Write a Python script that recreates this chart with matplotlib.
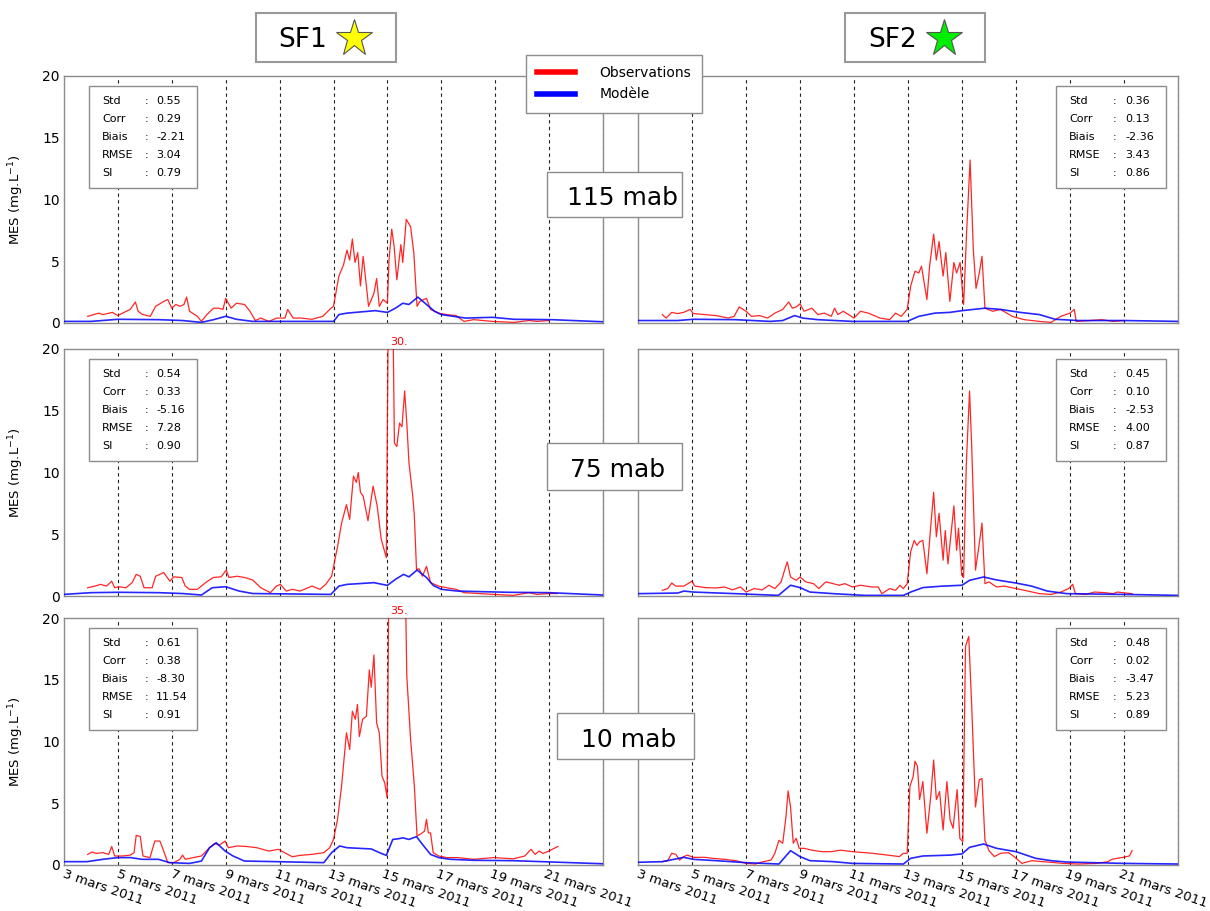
import numpy as np
import matplotlib
matplotlib.use("Agg")
import matplotlib.pyplot as plt
import matplotlib.transforms as mtransforms
from matplotlib.patches import Rectangle
from matplotlib.lines import Line2D

# ---------------- data (days since 1 March 2011, MES in mg/L) ----------------
sf1_115_obs_day = [0.88, 1.29, 1.44, 1.8, 2.0, 2.17, 2.46, 2.65, 2.75, 2.9, 3.2, 3.4, 3.7, 3.85, 4.0,
                   4.15, 4.3, 4.45, 4.55, 4.66, 4.95, 5.1, 5.3, 5.55, 5.75, 5.9, 6.0, 6.2, 6.4, 6.7,
                   6.9, 7.1, 7.3, 7.6, 7.9, 8.2, 8.3, 8.5, 8.8, 9.2, 9.6, 9.86, 10.0, 10.2, 10.37,
                   10.5, 10.6, 10.7, 10.8, 10.9, 11.0, 11.1, 11.25, 11.3, 11.5, 11.6, 11.7, 11.84, 12.0, 12.06,
                   12.16, 12.25, 12.35, 12.5, 12.57, 12.7, 12.86, 12.98, 13.1, 13.2, 13.45, 13.6, 13.9, 14.2, 14.55,
                   14.84, 15.2, 15.9, 16.7, 17.26, 17.55, 18.0]
sf1_115_obs = [0.54, 0.8, 0.68, 0.86, 0.6, 0.8, 1.1, 1.7, 0.95, 0.7, 0.54, 1.35, 1.75, 1.9, 1.2,
               1.5, 1.35, 1.5, 2.1, 0.95, 0.54, 0.13, 0.68, 1.2, 1.2, 1.1, 2.0, 1.2, 1.6, 1.5,
               0.95, 0.2, 0.4, 0.13, 0.4, 0.4, 1.1, 0.4, 0.4, 0.3, 0.54, 1.1, 1.35, 3.8, 4.7,
               5.9, 5.1, 6.8, 4.9, 5.7, 3.0, 5.4, 2.4, 1.35, 2.4, 3.6, 1.35, 1.9, 1.6, 5.1,
               7.6, 6.2, 3.5, 6.35, 4.9, 8.4, 7.8, 5.7, 1.35, 1.75, 2.0, 1.1, 0.8, 0.68, 0.6,
               0.13, 0.27, 0.13, 0.05, 0.2, 0.13, 0.2]
sf1_115_mod_day = [0, 1, 2, 3.5, 4.4, 5.1, 5.55, 6.0, 6.4, 7.0, 7.9, 10.0, 10.2, 10.5, 11.55,
                   12.0, 12.3, 12.57, 12.8, 13.13, 13.45, 13.75, 14.0, 14.9, 15.9, 16.7, 18.1, 20]
sf1_115_mod = [0.13, 0.13, 0.3, 0.27, 0.2, 0.05, 0.27, 0.54, 0.3, 0.13, 0.13, 0.13, 0.68, 0.8, 1.0,
               0.86, 1.2, 1.6, 1.5, 2.1, 1.5, 0.95, 0.68, 0.4, 0.46, 0.3, 0.27, 0.1]

sf2_115_obs_day = [0.9, 1.04, 1.25, 1.47, 1.69, 1.93, 2.05, 2.48, 2.9, 3.34, 3.56, 3.75, 4.0, 4.2, 4.5,
                   4.8, 5.07, 5.36, 5.58, 5.72, 5.86, 6.0, 6.15, 6.44, 6.66, 6.9, 7.16, 7.28, 7.4, 7.6,
                   7.8, 8.0, 8.24, 8.53, 8.96, 9.32, 9.54, 9.75, 9.97, 10.1, 10.26, 10.4, 10.5, 10.7, 10.8,
                   10.95, 11.05, 11.15, 11.3, 11.4, 11.55, 11.7, 11.8, 11.93, 12.06, 12.17, 12.3, 12.42, 12.52, 12.64,
                   12.74, 12.85, 13.14, 13.43, 13.86, 14.3, 14.87, 15.3, 15.66, 16.0, 16.16, 16.23, 16.74, 17.18, 17.6,
                   18.0]
sf2_115_obs = [0.68, 0.4, 0.86, 0.76, 0.86, 1.1, 0.76, 0.68, 0.6, 0.4, 0.54, 1.3, 0.95, 0.54, 0.6,
               0.4, 0.8, 1.1, 1.7, 1.2, 1.3, 1.55, 0.95, 1.2, 0.68, 0.8, 0.54, 1.2, 0.68, 0.95,
               0.68, 0.4, 0.95, 0.8, 0.4, 0.27, 0.8, 0.54, 1.1, 3.0, 4.2, 4.05, 4.6, 1.9, 4.6,
               7.2, 5.1, 6.6, 3.8, 5.7, 1.75, 4.9, 4.05, 4.9, 1.5, 7.3, 13.2, 5.9, 2.8, 4.05,
               5.4, 1.2, 0.95, 1.1, 0.54, 0.27, 0.13, 0.05, 0.54, 0.8, 1.1, 0.13, 0.2, 0.27, 0.13,
               0.2]
sf2_115_mod_day = [0, 1.47, 2.05, 3.6, 4.9, 5.36, 5.8, 6.1, 6.66, 7.95, 9.97, 10.4, 11.0, 11.55, 12.0,
                   12.42, 12.85, 13.43, 14.15, 14.87, 15.45, 16.3, 18.0, 20]
sf2_115_mod = [0.2, 0.2, 0.3, 0.27, 0.13, 0.2, 0.6, 0.4, 0.27, 0.13, 0.13, 0.54, 0.8, 0.86, 1.0,
               1.1, 1.2, 1.1, 0.86, 0.68, 0.3, 0.2, 0.2, 0.13]

sf1_75_obs_day = [0.88, 1.14, 1.36, 1.58, 1.77, 1.88, 2.02, 2.3, 2.53, 2.68, 2.83, 2.97, 3.27, 3.4, 3.7,
                  3.93, 4.07, 4.37, 4.5, 4.66, 4.95, 5.25, 5.54, 5.83, 6.02, 6.12, 6.42, 6.7, 7.0, 7.3,
                  7.66, 7.88, 8.03, 8.25, 8.47, 8.76, 9.2, 9.5, 9.71, 9.93, 10.15, 10.3, 10.48, 10.6, 10.74,
                  10.85, 10.92, 11.0, 11.1, 11.28, 11.47, 11.62, 11.77, 11.96, 12.04, 12.1, 12.22, 12.26, 12.35, 12.45,
                  12.54, 12.64, 12.72, 12.8, 12.94, 13.0, 13.08, 13.18, 13.3, 13.45, 13.6, 13.9, 14.2, 14.55, 14.84,
                  15.94, 16.67, 17.26, 17.55, 18.0, 18.3]
sf1_75_obs = [0.67, 0.8, 0.94, 0.8, 1.2, 0.67, 0.75, 0.67, 1.08, 1.75, 1.6, 0.67, 0.67, 1.6, 1.9,
              1.2, 1.55, 1.5, 0.8, 0.54, 0.54, 1.08, 1.5, 1.55, 2.1, 1.5, 1.6, 1.5, 1.3, 0.67,
              0.27, 0.8, 0.94, 0.4, 0.54, 0.4, 0.8, 0.54, 0.94, 1.6, 4.0, 5.9, 7.4, 6.2, 9.7,
              9.2, 10.0, 8.4, 8.1, 6.1, 8.9, 7.3, 4.6, 3.1, 25.0, 30.0, 20.0, 12.4, 12.1, 14.0,
              13.7, 16.6, 14.0, 10.8, 8.1, 6.5, 2.15, 2.2, 1.6, 2.4, 1.08, 0.8, 0.67, 0.54, 0.27,
              0.13, 0.05, 0.27, 0.13, 0.2, 0.2]
sf1_75_mod_day = [0, 1.0, 2.0, 3.5, 4.4, 5.1, 5.5, 6.0, 6.5, 7.0, 9.9, 10.2, 10.5, 11.5, 12.0,
                  12.3, 12.6, 12.8, 13.1, 13.45, 13.7, 14.0, 14.6, 15.5, 16.5, 18.0, 20]
sf1_75_mod = [0.13, 0.27, 0.3, 0.27, 0.2, 0.08, 0.67, 0.75, 0.4, 0.2, 0.13, 0.8, 0.94, 1.08, 0.86,
              1.35, 1.75, 1.55, 2.1, 1.5, 0.86, 0.54, 0.4, 0.35, 0.3, 0.27, 0.08]

sf2_75_obs_day = [0.9, 1.1, 1.25, 1.4, 1.7, 2.0, 2.1, 2.5, 2.9, 3.2, 3.5, 3.8, 4.0, 4.3, 4.6,
                  4.85, 5.07, 5.3, 5.43, 5.53, 5.65, 5.86, 6.0, 6.22, 6.5, 6.7, 6.95, 7.23, 7.45, 7.66,
                  7.95, 8.24, 8.67, 8.9, 9.03, 9.32, 9.54, 9.7, 9.83, 9.97, 10.1, 10.23, 10.33, 10.43, 10.55,
                  10.7, 10.83, 10.95, 11.05, 11.15, 11.3, 11.38, 11.48, 11.7, 11.8, 11.87, 11.99, 12.06, 12.16, 12.28,
                  12.36, 12.5, 12.64, 12.74, 12.85, 13.0, 13.28, 13.57, 14.0, 14.44, 14.87, 15.3, 15.66, 15.95, 16.1,
                  16.2, 16.6, 16.9, 17.3, 17.6, 17.75, 18.3]
sf2_75_obs = [0.46, 0.6, 1.05, 0.8, 0.8, 1.2, 0.8, 0.68, 0.65, 0.73, 0.5, 0.73, 0.32, 0.6, 0.5,
              0.87, 0.6, 1.14, 2.1, 2.76, 1.54, 1.27, 1.54, 1.14, 1.0, 0.6, 1.14, 1.0, 0.87, 1.0,
              0.73, 0.87, 0.73, 0.73, 0.19, 0.6, 0.46, 0.87, 0.6, 1.0, 3.6, 4.5, 4.1, 4.4, 4.5,
              1.8, 5.3, 8.4, 4.8, 6.7, 2.9, 5.3, 2.6, 7.3, 3.7, 5.5, 1.7, 1.5, 10.7, 16.6,
              12.1, 2.1, 4.25, 5.9, 1.0, 1.14, 0.73, 0.8, 0.6, 0.4, 0.19, 0.13, 0.32, 0.6, 0.95,
              0.19, 0.13, 0.32, 0.27, 0.19, 0.32, 0.19]
sf2_75_mod_day = [0, 1.47, 1.7, 2.05, 3.6, 5.2, 5.65, 6.0, 6.37, 7.23, 8.4, 9.83, 10.1, 10.55, 11.27,
                  12.0, 12.28, 12.8, 13.28, 14.0, 14.58, 15.16, 15.88, 18.0, 20]
sf2_75_mod = [0.19, 0.24, 0.4, 0.32, 0.19, 0.05, 0.87, 0.68, 0.32, 0.19, 0.05, 0.05, 0.32, 0.68, 0.8,
              0.87, 1.27, 1.54, 1.3, 1.05, 0.8, 0.4, 0.19, 0.13, 0.05]

sf1_10_obs_day = [0.88, 1.03, 1.2, 1.44, 1.66, 1.77, 1.88, 2.17, 2.46, 2.6, 2.68, 2.83, 2.93, 3.19, 3.37,
                  3.56, 3.7, 3.85, 4.07, 4.3, 4.4, 4.5, 4.8, 5.1, 5.4, 5.6, 5.76, 5.98, 6.1, 6.42,
                  6.78, 7.15, 7.6, 7.96, 8.18, 8.47, 8.76, 9.2, 9.64, 9.86, 10.0, 10.15, 10.3, 10.48, 10.6,
                  10.7, 10.81, 10.89, 10.96, 11.08, 11.22, 11.33, 11.4, 11.5, 11.6, 11.7, 11.8, 11.9, 11.99, 12.05,
                  12.1, 12.4, 12.65, 12.72, 12.86, 13.0, 13.1, 13.23, 13.38, 13.45, 13.52, 13.6, 13.7, 13.9, 14.2,
                  14.6, 15.2, 15.94, 16.67, 17.1, 17.33, 17.48, 17.63, 17.77, 18.0, 18.14, 18.33]
sf1_10_obs = [0.86, 1.05, 0.94, 1.0, 0.86, 1.5, 0.73, 0.73, 0.8, 1.0, 2.4, 2.3, 0.73, 0.6, 1.94,
              1.94, 1.13, 0.19, 0.19, 0.46, 0.8, 0.46, 0.6, 0.73, 1.4, 1.75, 1.6, 1.94, 1.4, 1.54,
              1.5, 1.4, 1.13, 1.27, 1.0, 0.67, 0.78, 0.86, 1.0, 1.4, 2.07, 3.7, 6.4, 10.7, 9.35,
              12.45, 11.8, 13.0, 10.4, 11.8, 12.05, 15.8, 14.4, 17.0, 11.5, 10.7, 7.2, 6.65, 5.45, 22.0,
              35.0, 30.0, 25.0, 15.3, 10.2, 6.4, 2.35, 2.5, 2.75, 3.7, 2.6, 2.6, 1.0, 0.73, 0.6,
              0.6, 0.46, 0.6, 0.5, 0.73, 1.27, 0.86, 1.13, 0.94, 1.13, 1.3, 1.5]
sf1_10_mod_day = [0, 0.85, 1.44, 2.0, 2.46, 2.9, 3.5, 3.93, 4.66, 5.1, 5.4, 5.65, 5.98, 6.27, 6.7,
                  7.9, 9.64, 9.93, 10.23, 10.5, 11.4, 11.77, 11.96, 12.2, 12.42, 12.57, 12.8, 13.08, 13.3, 13.6,
                  13.9, 14.33, 15.2, 16.67, 18.14, 20]
sf1_10_mod = [0.27, 0.27, 0.46, 0.6, 0.6, 0.46, 0.46, 0.19, 0.13, 0.32, 1.4, 1.8, 1.13, 0.73, 0.32,
              0.27, 0.19, 1.0, 1.54, 1.4, 1.3, 0.94, 0.78, 2.07, 2.13, 2.2, 2.07, 2.3, 1.67, 0.86,
              0.6, 0.46, 0.38, 0.35, 0.24, 0.1]

sf2_10_obs_day = [0.9, 1.1, 1.25, 1.4, 1.54, 1.69, 1.83, 2.05, 2.48, 2.77, 3.2, 3.63, 4.0, 4.35, 4.64,
                  4.93, 5.07, 5.22, 5.36, 5.48, 5.56, 5.65, 5.75, 5.86, 5.97, 6.15, 6.44, 6.8, 7.16, 7.5,
                  7.95, 8.67, 9.25, 9.68, 9.83, 9.97, 10.07, 10.19, 10.26, 10.35, 10.43, 10.55, 10.7, 10.84, 10.95,
                  11.05, 11.17, 11.3, 11.44, 11.56, 11.67, 11.82, 11.92, 12.03, 12.13, 12.25, 12.35, 12.5, 12.64, 12.74,
                  12.85, 13.0, 13.2, 13.43, 13.72, 13.93, 14.22, 14.58, 15.0, 15.45, 15.74, 16.3, 17.0, 17.4, 17.55,
                  17.75, 17.97, 18.2, 18.3]
sf2_10_obs = [0.27, 0.35, 0.95, 0.86, 0.4, 0.68, 0.8, 0.62, 0.62, 0.54, 0.46, 0.35, 0.13, 0.08, 0.27,
              0.4, 0.95, 2.0, 1.76, 3.9, 6.0, 4.7, 1.76, 2.16, 1.35, 1.35, 1.2, 1.08, 1.08, 1.2,
              1.08, 0.95, 0.8, 0.68, 0.95, 0.95, 6.35, 7.16, 8.4, 8.0, 5.3, 6.75, 2.57, 5.5, 8.5,
              5.3, 5.95, 2.84, 6.75, 3.65, 2.97, 6.1, 2.16, 1.9, 17.7, 18.5, 13.4, 4.7, 6.9, 7.0,
              2.0, 1.16, 0.68, 0.95, 1.0, 0.68, 0.13, 0.35, 0.27, 0.19, 0.13, 0.08, 0.13, 0.27, 0.46,
              0.54, 0.62, 0.73, 1.16]
sf2_10_mod_day = [0, 0.9, 1.69, 2.05, 2.9, 4.0, 5.22, 5.65, 6.0, 6.37, 7.23, 7.95, 9.83, 10.1, 10.55,
                  11.56, 12.0, 12.28, 12.8, 13.28, 14.0, 14.73, 15.3, 15.88, 18.0, 20]
sf2_10_mod = [0.22, 0.27, 0.62, 0.46, 0.35, 0.19, 0.08, 1.16, 0.68, 0.35, 0.27, 0.13, 0.08, 0.54, 0.73,
              0.8, 0.9, 1.43, 1.7, 1.35, 1.08, 0.54, 0.35, 0.24, 0.13, 0.08]

stat_names = ["Std", "Corr", "Biais", "RMSE", "SI"]
sf1_stats = [[0.55, 0.29, -2.21, 3.04, 0.79],
             [0.54, 0.33, -5.16, 7.28, 0.90],
             [0.61, 0.38, -8.30, 11.54, 0.91]]
sf2_stats = [[0.36, 0.13, -2.36, 3.43, 0.86],
             [0.45, 0.10, -2.53, 4.00, 0.87],
             [0.48, 0.02, -3.47, 5.23, 0.89]]
depths = [115, 75, 10]
tick_days = [3, 5, 7, 9, 11, 13, 15, 17, 19, 21]
tick_labels = ["%d mars 2011" % d for d in tick_days]

# ---------------- figure ----------------
W, H = 1210, 911
fig = plt.figure(figsize=(W / 100, H / 100), dpi=100)


def fx(x):
    return x / W


def fy(y):
    return 1 - y / H


T0 = np.datetime64("2011-03-01T00:00")


def to_time(days):
    return T0 + np.round(np.asarray(days, dtype=float) * 1440).astype("timedelta64[m]")


tick_times = np.array(["2011-03-%02d" % d for d in tick_days], dtype="datetime64[m]")

panels = [
    [(sf1_115_obs_day, sf1_115_obs, sf1_115_mod_day, sf1_115_mod),
     (sf2_115_obs_day, sf2_115_obs, sf2_115_mod_day, sf2_115_mod)],
    [(sf1_75_obs_day, sf1_75_obs, sf1_75_mod_day, sf1_75_mod),
     (sf2_75_obs_day, sf2_75_obs, sf2_75_mod_day, sf2_75_mod)],
    [(sf1_10_obs_day, sf1_10_obs, sf1_10_mod_day, sf1_10_mod),
     (sf2_10_obs_day, sf2_10_obs, sf2_10_mod_day, sf2_10_mod)],
]
stats_all = [sf1_stats, sf2_stats]

col_x = [(64, 539), (638, 540)]
row_y = [76, 349, 618]
ax_h = 247
spine_col = "#8c8c8c"
label_shift = mtransforms.ScaledTranslation(-15 / 100, 0, fig.dpi_scale_trans)

for r in range(3):
    for c in range(2):
        x0, w = col_x[c]
        ax = fig.add_axes([fx(x0), fy(row_y[r] + ax_h), w / W, ax_h / H])
        obs_d, obs_v, mod_d, mod_v = panels[r][c]
        ax.plot(to_time(obs_d), obs_v, color="#ff0000", lw=0.9, alpha=0.85, zorder=3)
        ax.plot(to_time(mod_d), mod_v, color="#0000ff", lw=1.2, alpha=0.85, zorder=3)

        ax.set_xlim(to_time(0), to_time(20))
        ax.set_ylim(0, 20)
        ax.set_yticks([0, 5, 10, 15, 20])
        ax.set_xticks(tick_times)
        ax.grid(axis="x", color="#222222", linestyle=(0, (3, 3)), linewidth=0.8)
        ax.tick_params(length=0, labelsize=10, pad=3)
        for sp in ax.spines.values():
            sp.set_color(spine_col)
            sp.set_linewidth(1)

        if r == 2:
            ax.set_xticklabels(tick_labels, rotation=-19, ha="center", fontsize=9.5)
            ax.tick_params(axis="x", pad=2)
            for t in ax.xaxis.get_major_ticks():
                t.label1.set_transform(t.label1.get_transform() + label_shift)
        else:
            ax.tick_params(labelbottom=False)
        if c == 0:
            ax.set_ylabel("MES (mg.L$^{\\mathregular{-1}}$)", fontsize=9.5)
            ax.yaxis.set_label_coords(-0.07, 0.5)
        else:
            ax.tick_params(labelleft=False)

        # clipped peak value
        peak = max(obs_v)
        if peak > 20:
            ax.text(to_time(obs_d[int(np.argmax(obs_v))]), 20.15, "%d." % round(peak),
                    color="red", fontsize=8, ha="left", va="bottom", clip_on=False)

        # statistics box
        if c == 0:
            bx0, bx1, lx, cx, vx = 0.046, 0.247, 0.0705, 0.149, 0.171
        else:
            bx0, bx1, lx, cx, vx = 0.774, 0.978, 0.798, 0.880, 0.902
        ax.add_patch(Rectangle((bx0, 0.547), bx1 - bx0, 0.413, transform=ax.transAxes,
                               facecolor="white", edgecolor=spine_col, lw=1, zorder=5))
        for i, (name, val) in enumerate(zip(stat_names, stats_all[c][r])):
            yy = 0.899 - i * 0.0729
            ax.text(lx, yy, name, transform=ax.transAxes, fontsize=8, va="center", zorder=6)
            ax.text(cx, yy, ":", transform=ax.transAxes, fontsize=8, va="center", zorder=6)
            ax.text(vx, yy, "%.2f" % val, transform=ax.transAxes, fontsize=8, va="center", zorder=6)

# ---------------- depth labels ----------------
depth_boxes = [(547, 172, 682, 217, 567, 205), (547, 443, 682, 490, 570, 477),
               (557, 713, 694, 759, 581, 747)]
for d, (bx0, by0, bx1, by1, tx, ty) in zip(depths, depth_boxes):
    fig.add_artist(Rectangle((fx(bx0), fy(by1)), (bx1 - bx0) / W, (by1 - by0) / H,
                             transform=fig.transFigure, facecolor="white",
                             edgecolor=spine_col, lw=1, zorder=10))
    fig.text(fx(tx), fy(ty), "%d mab" % d, fontsize=18, ha="left", va="baseline", zorder=11)

# ---------------- station titles ----------------
stations = [("SF1", 256, 303, 354, "#ffff00"), ("SF2", 845, 893, 944, "#00ee00")]
for name, bx, tx, sx, scol in stations:
    fig.add_artist(Rectangle((fx(bx), fy(62)), 140 / W, 49 / H, transform=fig.transFigure,
                             facecolor="white", edgecolor="#999999", lw=1.5))
    fig.text(fx(tx), fy(47), name, fontsize=19, ha="center", va="baseline")
    fig.add_artist(Line2D([fx(sx)], [fy(38)], marker="*", markersize=28, markerfacecolor=scol,
                          markeredgecolor="#555555", markeredgewidth=0.8, transform=fig.transFigure))

# ---------------- legend ----------------
handles = [Line2D([], [], color="#ff0000", lw=4), Line2D([], [], color="#0000ff", lw=4)]
leg = fig.legend(handles, ["Observations", "Modèle"], loc="upper left",
                 bbox_to_anchor=(fx(526), fy(55)), borderaxespad=0, fontsize=10,
                 handlelength=2.7, handletextpad=1.8, labelspacing=0.53, borderpad=0.8,
                 fancybox=False, framealpha=1, edgecolor=spine_col)
leg.get_frame().set_linewidth(1)
leg.set_zorder(20)

fig.savefig("out.png", dpi=100)
